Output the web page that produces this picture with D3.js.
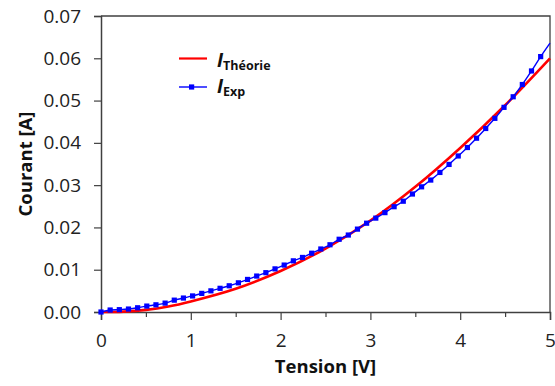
<!DOCTYPE html>
<html><head><meta charset="utf-8">
<script src="https://cdn.jsdelivr.net/npm/d3@7"></script>
<style>body{margin:0;background:#fff}svg{display:block}text{font-family:"Open Sans",sans-serif}</style>
</head><body><svg id="c" width="555" height="386"></svg>
<script>
// Theory curve (V, A)
const theoryV = [0, 0.25, 0.5, 0.75, 1, 1.5, 2, 2.5, 3, 3.5, 4, 4.5, 5];
const theoryI = [0, 0.0001, 0.0005, 0.0013, 0.0025, 0.0055, 0.0097, 0.0150, 0.0216, 0.0296, 0.0388, 0.0489, 0.0600];
// Experimental points (V, A)
const expV = [0, 0.102, 0.204, 0.306, 0.408, 0.51, 0.612, 0.714, 0.816, 0.918, 1.02, 1.122, 1.224, 1.326, 1.428, 1.53, 1.632, 1.734, 1.836, 1.938, 2.04, 2.142, 2.244, 2.346, 2.448, 2.55, 2.652, 2.754, 2.856, 2.958, 3.06, 3.162, 3.264, 3.366, 3.468, 3.57, 3.672, 3.774, 3.876, 3.978, 4.08, 4.182, 4.284, 4.386, 4.488, 4.59, 4.692, 4.794, 4.896];
const expI = [0, 0.00047, 0.00055, 0.0007, 0.0010, 0.0014, 0.0017, 0.0021, 0.0028, 0.0033, 0.0038, 0.0044, 0.0050, 0.0056, 0.0062, 0.0069, 0.0077, 0.0085, 0.0093, 0.0102, 0.0111, 0.0121, 0.0129, 0.0139, 0.0149, 0.0159, 0.0172, 0.0182, 0.0196, 0.0210, 0.0222, 0.0235, 0.0249, 0.0262, 0.0279, 0.0296, 0.0312, 0.0330, 0.0349, 0.0369, 0.0389, 0.0411, 0.0434, 0.0458, 0.0484, 0.0509, 0.0538, 0.0570, 0.0604];
const expEndV = 5.0, expEndI = 0.0636;
const xTicks = [0, 1, 2, 3, 4, 5];
const xMinor = [0.5, 1.5, 2.5, 3.5, 4.5];
const yTicks = [0, 0.01, 0.02, 0.03, 0.04, 0.05, 0.06, 0.07];

const svg = d3.select("#c");
const L = 101, R = 550, T = 16, B = 312;
const x = d3.scaleLinear().domain([0, 5]).range([L, R]);
const y = d3.scaleLinear().domain([0, 0.07]).range([B, T]);
const axisCol = "#404040";

// frame top/right
svg.append("path").attr("d", `M${L},${T}H${R}V${B}`).attr("fill", "none").attr("stroke", axisCol).attr("stroke-width", 1.3);

// y axis
svg.append("g").attr("transform", `translate(${L},0)`)
  .call(d3.axisLeft(y).tickValues(yTicks).tickFormat(d3.format(".2f")).tickSize(7).tickPadding(13));
// x axis
svg.append("g").attr("transform", `translate(0,${B})`)
  .call(d3.axisBottom(x).tickValues(xTicks).tickFormat(d3.format("d")).tickSize(8).tickPadding(14));
svg.append("g").attr("transform", `translate(0,${B})`)
  .call(d3.axisBottom(x).tickValues(xMinor).tickFormat("").tickSize(5)).select(".domain").remove();
svg.selectAll(".domain").attr("stroke", axisCol).attr("stroke-width", 1.5);
svg.selectAll(".tick line").attr("stroke", axisCol).attr("stroke-width", 1.2);
svg.selectAll(".tick text").attr("font-family", "'Open Sans',sans-serif").attr("font-size", 19).attr("fill", "#222");

// axis titles
svg.append("text").attr("x", (L + R) / 2).attr("y", 373).attr("text-anchor", "middle")
  .attr("font-weight", "bold").attr("font-size", 18.5).attr("fill", "#111").text("Tension [V]");
svg.append("text").attr("transform", `translate(32,${(T + B) / 2}) rotate(-90)`).attr("text-anchor", "middle")
  .attr("font-weight", "bold").attr("font-size", 18.5).attr("fill", "#111").text("Courant [A]");

const line = d3.line().x(d => x(d[0])).y(d => y(d[1])).curve(d3.curveCatmullRom);
const thData = theoryV.map((v, i) => [v, theoryI[i]]);
const exData = expV.map((v, i) => [v, expI[i]]);

svg.append("path").datum(thData).attr("d", line).attr("fill", "none").attr("stroke", "#ff0000").attr("stroke-width", 2.6);
svg.append("path").datum(exData.concat([[expEndV, expEndI]])).attr("d", line).attr("fill", "none").attr("stroke", "#0000ff").attr("stroke-width", 1.4);
svg.append("g").selectAll("rect").data(exData).join("rect")
  .attr("x", d => x(d[0]) - 2.6).attr("y", d => y(d[1]) - 2.6).attr("width", 5.2).attr("height", 5.2).attr("fill", "#0000ff");

// legend
const lg = svg.append("g");
lg.append("line").attr("x1", 179).attr("x2", 207).attr("y1", 58.5).attr("y2", 58.5).attr("stroke", "#ff0000").attr("stroke-width", 2.2);
lg.append("line").attr("x1", 179).attr("x2", 207).attr("y1", 87).attr("y2", 87).attr("stroke", "#0000ff").attr("stroke-width", 1.4);
lg.append("rect").attr("x", 189).attr("y", 84.4).attr("width", 5.2).attr("height", 5.2).attr("fill", "#0000ff");
const t1 = lg.append("text").attr("x", 217).attr("y", 67).attr("font-weight", "bold").attr("fill", "#111");
t1.append("tspan").attr("font-style", "italic").attr("font-size", 19).text("I");
t1.append("tspan").attr("font-size", 12.5).attr("dy", 3).text("Théorie");
const t2 = lg.append("text").attr("x", 217).attr("y", 93).attr("font-weight", "bold").attr("fill", "#111");
t2.append("tspan").attr("font-style", "italic").attr("font-size", 19).text("I");
t2.append("tspan").attr("font-size", 12.5).attr("dy", 3).text("Exp");
</script></body></html>
